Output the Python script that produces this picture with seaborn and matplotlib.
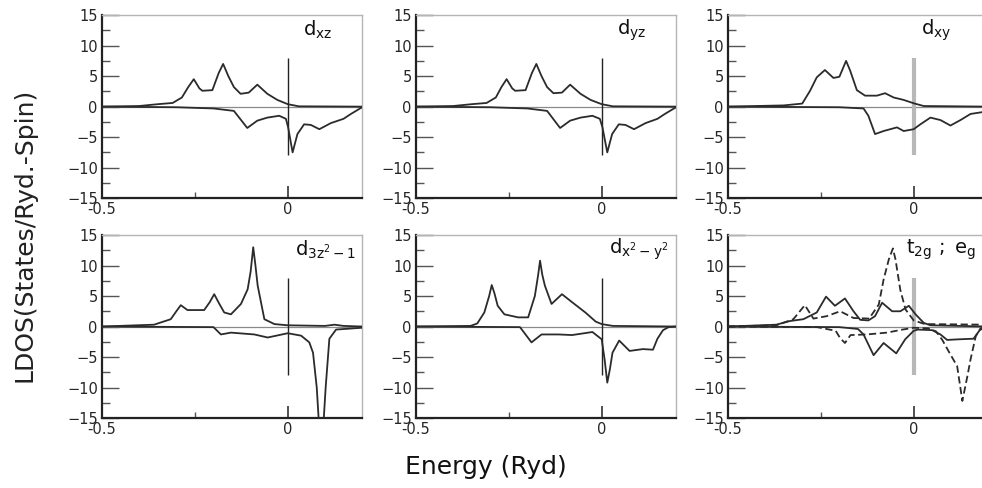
import numpy as np
import pandas as pd
import matplotlib
matplotlib.use("Agg")
import matplotlib.pyplot as plt
import seaborn as sns

# --- data (energy in Ryd, LDOS in states/Ryd-spin) ---
dxz_up_x = [-0.5, -0.40, -0.35, -0.31, -0.285, -0.268, -0.253, -0.238, -0.23, -0.203, -0.186,
            -0.174, -0.16, -0.145, -0.127, -0.105, -0.082, -0.055, -0.028, 0.0, 0.03, 0.2]
dxz_up_y = [0, 0.1, 0.4, 0.6, 1.5, 3.2, 4.5, 3.0, 2.6, 2.7, 5.5, 7.0, 5.0, 3.2, 2.1, 2.3, 3.6,
            2.1, 1.1, 0.4, 0.05, 0]
dxz_dn_x = [-0.5, -0.3, -0.2, -0.145, -0.109, -0.082, -0.055, -0.023, -0.005, 0.001, 0.013,
            0.026, 0.044, 0.062, 0.085, 0.116, 0.15, 0.17, 0.2]
dxz_dn_y = [0, -0.1, -0.3, -0.7, -3.5, -2.3, -1.8, -1.5, -2.0, -3.4, -7.5, -4.5, -2.9, -3.0,
            -3.7, -2.7, -2.0, -1.2, -0.1]

dyz_up_x = [-0.5, -0.40, -0.35, -0.31, -0.285, -0.27, -0.256, -0.241, -0.233, -0.205, -0.188,
            -0.176, -0.162, -0.147, -0.13, -0.107, -0.085, -0.057, -0.03, 0.0, 0.03, 0.2]
dyz_up_y = [0, 0.1, 0.4, 0.6, 1.5, 3.2, 4.5, 3.0, 2.6, 2.7, 5.5, 7.0, 5.0, 3.2, 2.2, 2.3, 3.6,
            2.1, 1.1, 0.4, 0.05, 0]
dyz_dn_x = [-0.5, -0.3, -0.2, -0.147, -0.112, -0.085, -0.057, -0.025, -0.005, 0.002, 0.015,
            0.028, 0.046, 0.064, 0.087, 0.118, 0.15, 0.17, 0.2]
dyz_dn_y = [0, -0.1, -0.3, -0.7, -3.5, -2.3, -1.8, -1.5, -2.0, -3.4, -7.5, -4.5, -2.9, -3.0,
            -3.7, -2.7, -2.0, -1.2, -0.1]

dxy_up_x = [-0.5, -0.35, -0.30, -0.279, -0.261, -0.239, -0.216, -0.2, -0.182, -0.171, -0.153,
            -0.131, -0.099, -0.077, -0.054, -0.027, 0.0, 0.027, 0.2]
dxy_up_y = [0, 0.2, 0.5, 2.6, 4.8, 6.0, 4.7, 4.9, 7.5, 5.9, 2.7, 1.8, 1.8, 2.2, 1.5, 1.1, 0.55, 0.1, 0]
dxy_dn_x = [-0.5, -0.2, -0.135, -0.122, -0.104, -0.081, -0.045, -0.027, 0.0, 0.018, 0.045,
            0.072, 0.099, 0.126, 0.153, 0.185, 0.2]
dxy_dn_y = [0, -0.1, -0.3, -1.5, -4.5, -4.0, -3.4, -4.0, -3.7, -2.9, -1.8, -2.2, -3.1, -2.2,
            -1.2, -0.9, -0.8]

dz2_up_x = [-0.5, -0.36, -0.315, -0.3, -0.288, -0.27, -0.225, -0.21, -0.198, -0.185, -0.171,
            -0.153, -0.126, -0.108, -0.1, -0.093, -0.087, -0.081, -0.063, -0.036, 0.0, 0.1,
            0.126, 0.15, 0.2]
dz2_up_y = [0, 0.3, 1.2, 2.5, 3.5, 2.7, 2.7, 4.0, 5.3, 3.8, 2.3, 2.0, 3.7, 6.1, 9.0, 13.0, 10.0,
            6.7, 1.2, 0.4, 0.2, 0.1, 0.3, 0.1, 0]
dz2_dn_x = [-0.5, -0.2, -0.18, -0.153, -0.09, -0.054, 0.0, 0.036, 0.058, 0.068, 0.078, 0.09,
            0.102, 0.112, 0.13, 0.2]
dz2_dn_y = [0, -0.1, -1.3, -1.0, -1.3, -1.8, -1.1, -1.5, -2.6, -4.3, -10.0, -22.0, -10.0, -2.0,
            -0.5, -0.2]

dx2_up_x = [-0.5, -0.353, -0.335, -0.316, -0.303, -0.296, -0.289, -0.28, -0.262, -0.225, -0.198,
            -0.18, -0.171, -0.166, -0.16, -0.153, -0.135, -0.107, -0.08, -0.044, -0.016, 0.0,
            0.03, 0.2]
dx2_up_y = [0, 0.1, 0.5, 2.3, 5.0, 6.8, 5.5, 3.4, 2.0, 1.5, 1.5, 5.0, 8.5, 10.8, 8.5, 6.7, 3.7,
            5.3, 4.0, 2.3, 0.8, 0.4, 0.1, 0]
dx2_dn_x = [-0.5, -0.22, -0.189, -0.162, -0.116, -0.08, -0.025, 0.0, 0.008, 0.015, 0.022,
            0.029, 0.047, 0.075, 0.111, 0.138, 0.15, 0.165, 0.18, 0.2]
dx2_dn_y = [0, -0.1, -2.6, -1.3, -1.3, -1.4, -0.9, -2.1, -5.5, -9.2, -7.0, -4.3, -2.3, -4.0,
            -3.7, -3.8, -2.0, -0.6, -0.1, 0]

t2g_up_x = [-0.5, -0.37, -0.333, -0.297, -0.261, -0.236, -0.212, -0.185, -0.162, -0.144, -0.122,
            -0.104, -0.085, -0.058, -0.036, -0.013, 0.005, 0.027, 0.045, 0.2]
t2g_up_y = [0, 0.3, 0.9, 1.2, 2.3, 4.9, 3.4, 4.6, 2.5, 1.1, 1.0, 1.7, 3.9, 2.5, 2.5, 3.4, 2.0,
            0.6, 0.2, 0]
t2g_dn_x = [-0.5, -0.2, -0.15, -0.135, -0.108, -0.081, -0.047, -0.023, 0.0, 0.011, 0.05, 0.072,
            0.09, 0.12, 0.161, 0.179, 0.2]
t2g_dn_y = [0, -0.1, -0.4, -1.3, -4.7, -2.7, -4.4, -2.1, -0.7, -0.5, -0.6, -1.3, -2.2, -2.1,
            -2.0, -0.5, -0.2]
eg_up_x = [-0.5, -0.37, -0.324, -0.293, -0.27, -0.234, -0.198, -0.162, -0.12, -0.094, -0.081,
           -0.067, -0.056, -0.049, -0.036, -0.022, 0.0, 0.03, 0.2]
eg_up_y = [0, 0.2, 1.2, 3.5, 1.3, 1.7, 2.5, 1.4, 1.3, 3.6, 7.7, 11.0, 12.8, 11.0, 6.0, 2.8,
           1.0, 0.4, 0.3]
eg_dn_x = [-0.5, -0.26, -0.21, -0.198, -0.185, -0.17, -0.126, -0.072, -0.03, 0.0, 0.04, 0.06,
           0.077, 0.099, 0.117, 0.131, 0.145, 0.153, 0.167, 0.18, 0.2]
eg_dn_y = [0, -0.1, -0.7, -1.9, -2.7, -1.4, -1.3, -1.0, -0.5, -0.2, -0.3, -0.8, -2.2, -4.6,
           -6.5, -12.2, -8.0, -5.4, -1.6, -0.3, -0.1]

panel_labels = [r"$\mathregular{d_{xz}}$", r"$\mathregular{d_{yz}}$", r"$\mathregular{d_{xy}}$",
                r"$\mathregular{d_{3z^2-1}}$", r"$\mathregular{d_{x^2-y^2}}$",
                r"$\mathregular{t_{2g}\ ;\ e_g}$"]
x_ticks = [-0.5, 0]
x_tick_labels = ["-0.5", "0"]
y_ticks = [-15, -10, -5, 0, 5, 10, 15]

# (series list, label, fermi line style)
panels = [
    ([(dxz_up_x, dxz_up_y, "-"), (dxz_dn_x, dxz_dn_y, "-")], panel_labels[0], "thin"),
    ([(dyz_up_x, dyz_up_y, "-"), (dyz_dn_x, dyz_dn_y, "-")], panel_labels[1], "thin"),
    ([(dxy_up_x, dxy_up_y, "-"), (dxy_dn_x, dxy_dn_y, "-")], panel_labels[2], "thick"),
    ([(dz2_up_x, dz2_up_y, "-"), (dz2_dn_x, dz2_dn_y, "-")], panel_labels[3], "thin"),
    ([(dx2_up_x, dx2_up_y, "-"), (dx2_dn_x, dx2_dn_y, "-")], panel_labels[4], "thin"),
    ([(t2g_up_x, t2g_up_y, "-"), (t2g_dn_x, t2g_dn_y, "-"),
      (eg_up_x, eg_up_y, "--"), (eg_dn_x, eg_dn_y, "--")], panel_labels[5], "thick"),
]

sns.set_style("white")
plt.rcParams['font.family'] = ['DejaVu Sans']

fig = plt.figure(figsize=(9.82, 4.88), dpi=100)

lefts = [0.1039, 0.4236, 0.7413]
bottoms = [0.594, 0.1434]
w, h = 0.2648, 0.375

for i, (series, label, fermi) in enumerate(panels):
    ax = fig.add_axes([lefts[i % 3], bottoms[i // 3], w, h])
    ax.axhline(0, color="#8a8a8a", lw=0.9, zorder=1)
    for xs, ys, ls in series:
        sns.lineplot(x=xs, y=ys, ax=ax, color="#2b2b2b", lw=1.3, sort=False, estimator=None,
                     linestyle=ls if ls == "-" else (0, (4, 2)), zorder=3)
    if fermi == "thin":
        ax.vlines(0, -8, 8, color="#222222", lw=1.0, zorder=2)
    else:
        ax.vlines(0, -8, 8, color="#b8b8b8", lw=3.0, zorder=2)

    ax.set_xlim(-0.5, 0.2)
    ax.set_ylim(-15, 15)
    ax.set_xticks(x_ticks)
    ax.set_xticklabels(x_tick_labels)
    ax.set_xticks([-0.25], minor=True)
    ax.set_yticks(y_ticks)
    ax.set_yticks([-12.5, -7.5, -2.5, 2.5, 7.5, 12.5], minor=True)
    ax.tick_params(axis="y", which="major", direction="in", length=12, width=1.0,
                   labelsize=10.5, pad=3, color="#555555")
    ax.tick_params(axis="y", which="minor", direction="in", length=6, width=1.0, color="#555555")
    ax.tick_params(axis="x", which="major", direction="in", length=9, width=1.2,
                   labelsize=10.5, pad=3, color="#333333")
    ax.tick_params(axis="x", which="minor", direction="in", length=4, width=1.0, color="#555555")
    ax.tick_params(left=True, bottom=True, which="both")
    ax.set_xlabel("")
    ax.set_ylabel("")

    for side in ["left", "bottom"]:
        ax.spines[side].set_color("#222222")
        ax.spines[side].set_linewidth(1.6)
    for side in ["top", "right"]:
        ax.spines[side].set_color("#b5b5b5")
        ax.spines[side].set_linewidth(1.0)

    lx = 0.04 if i < 2 else (0.02 if i < 5 else -0.02)
    ax.text(lx, 12.6, label, fontsize=14, ha="left", va="center", color="#111111")

fig.text(0.025, 0.518, "LDOS(States/Ryd.-Spin)", rotation=90, ha="center", va="center",
         fontsize=18, color="#222222", family=["Liberation Sans Narrow", "DejaVu Sans"])
fig.text(0.495, 0.043, "Energy (Ryd)", ha="center", va="center", fontsize=18, color="#111111")

fig.savefig("out.png", dpi=100)
